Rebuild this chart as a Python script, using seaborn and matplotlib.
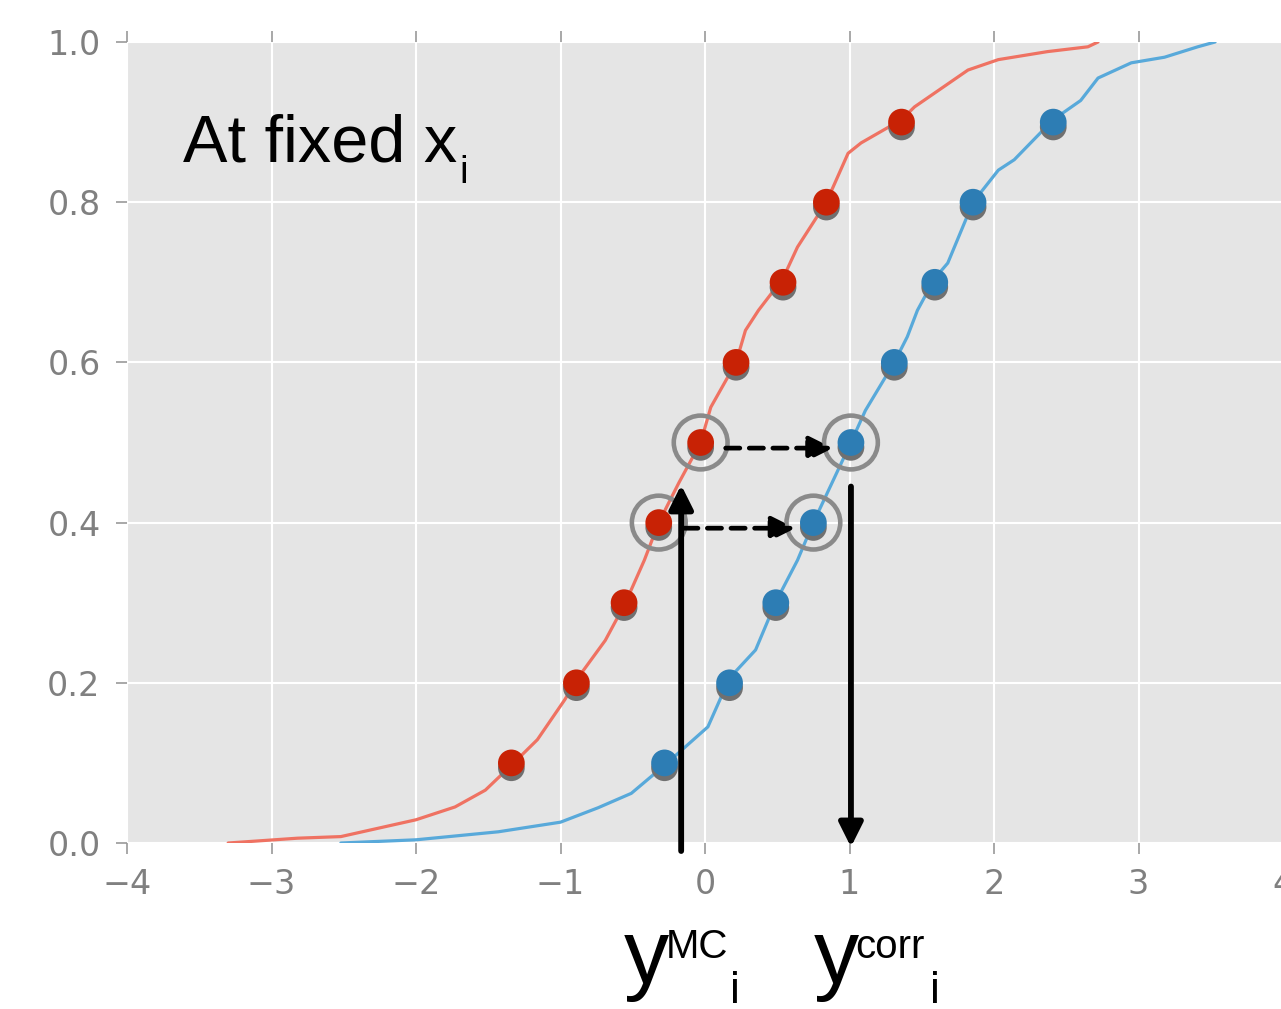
"""Quantile mapping sketch: MC vs corrected CDFs at fixed x_i."""

import matplotlib
matplotlib.use("Agg")
import matplotlib.pyplot as plt
import matplotlib.patheffects as pe
import seaborn as sns

W, H = 1281, 1009

RED_X = [-3.30, -2.82, -2.52, -2.00, -1.73, -1.52, -1.34, -1.16, -0.97, -0.88,
         -0.69, -0.55, -0.42, -0.32, -0.18, -0.03, 0.04, 0.215, 0.28, 0.37,
         0.54, 0.64, 0.84, 0.99, 1.08, 1.36, 1.45, 1.82, 2.03, 2.37, 2.65, 2.72]
RED_Y = [0.0, 0.006, 0.008, 0.029, 0.045, 0.066, 0.097, 0.129, 0.179, 0.206,
         0.253, 0.300, 0.353, 0.400, 0.450, 0.500, 0.544, 0.600, 0.640, 0.665,
         0.705, 0.744, 0.800, 0.861, 0.874, 0.903, 0.919, 0.965, 0.978, 0.988, 0.994, 1.0]
BLUE_X = [-2.52, -2.00, -1.43, -1.00, -0.74, -0.51, -0.28, 0.02, 0.17, 0.35,
          0.49, 0.64, 0.75, 0.88, 1.01, 1.11, 1.31, 1.40, 1.47, 1.59,
          1.68, 1.855, 2.03, 2.14, 2.41, 2.60, 2.72, 2.95, 3.18, 3.41, 3.53]
BLUE_Y = [0.0, 0.004, 0.014, 0.026, 0.044, 0.062, 0.097, 0.145, 0.206, 0.241,
          0.301, 0.353, 0.400, 0.450, 0.500, 0.540, 0.600, 0.632, 0.665, 0.705,
          0.724, 0.800, 0.840, 0.853, 0.903, 0.927, 0.955, 0.974, 0.981, 0.994, 1.0]

# quantile points
Q_LEVELS = [0.1, 0.2, 0.3, 0.4, 0.5, 0.6, 0.7, 0.8, 0.9]
RED_Q = [-1.34, -0.89, -0.56, -0.32, -0.03, 0.215, 0.54, 0.84, 1.36]
BLUE_Q = [-0.28, 0.17, 0.49, 0.75, 1.01, 1.31, 1.59, 1.855, 2.41]
HIGHLIGHT = [3, 4]

# vertical arrows (x, y_start, y_end)
UP_ARROW = (-0.165, -0.010, 0.447)
DOWN_ARROW = (1.01, 0.445, -0.005)

X_TICKS = [-4, -3, -2, -1, 0, 1, 2, 3, 4]
Y_TICKS = [0.0, 0.2, 0.4, 0.6, 0.8, 1.0]

C_RED_LINE, C_BLUE_LINE = "#EF7262", "#58A9DA"
C_RED_DOT, C_BLUE_DOT = "#C82205", "#2D7DB4"
SANS = ["Liberation Sans", "DejaVu Sans"]

sns.set_theme(style="darkgrid", rc={
    "axes.facecolor": "#E5E5E5", "grid.color": "white", "grid.linewidth": 1.5,
})
plt.rcParams["font.family"] = ["DejaVu Sans"]

fig = plt.figure(figsize=(W / 100, H / 100), dpi=100)
ax = fig.add_axes([127 / W, 166 / H, 1156 / W, 801 / H])

sns.lineplot(x=RED_X, y=RED_Y, sort=False, estimator=None, color=C_RED_LINE, lw=2.3, ax=ax)
sns.lineplot(x=BLUE_X, y=BLUE_Y, sort=False, estimator=None, color=C_BLUE_LINE, lw=2.3, ax=ax)

shadow = [pe.SimplePatchShadow(offset=(0, -3.5), shadow_rgbFace="#707070", alpha=1.0), pe.Normal()]
for xs, col in [(RED_Q, C_RED_DOT), (BLUE_Q, C_BLUE_DOT)]:
    sns.scatterplot(x=xs, y=Q_LEVELS, s=370, color=col, edgecolor="none",
                    path_effects=shadow, zorder=4, ax=ax)

# highlight rings
ring_x = [RED_Q[i] for i in HIGHLIGHT] + [BLUE_Q[i] for i in HIGHLIGHT]
ring_y = [Q_LEVELS[i] for i in HIGHLIGHT] * 2
ax.scatter(ring_x, ring_y, s=1500, facecolors="none", edgecolors="#8A8A8A",
           linewidths=3.3, zorder=5)

# dashed horizontal arrows red -> blue
for i in HIGHLIGHT:
    y = Q_LEVELS[i] - 0.007
    ax.annotate("", xy=(BLUE_Q[i], y), xytext=(RED_Q[i], y),
                arrowprops=dict(arrowstyle="-|>", color="black", lw=3.4,
                                linestyle=(0, (3, 2)), mutation_scale=36,
                                shrinkA=18, shrinkB=13), zorder=6)

# vertical arrows
for xa, y0, y1 in [UP_ARROW, DOWN_ARROW]:
    ax.annotate("", xy=(xa, y1), xytext=(xa, y0), annotation_clip=False,
                arrowprops=dict(arrowstyle="-|>", color="black", lw=4.2,
                                mutation_scale=36, shrinkA=0, shrinkB=0), zorder=6)

ax.set_xlim(-4, 4)
ax.set_ylim(0, 1)
ax.set_xticks(X_TICKS)
ax.set_yticks(Y_TICKS)
ax.set_yticklabels([f"{v:.1f}" for v in Y_TICKS])
for s in ax.spines.values():
    s.set_visible(False)
ax.tick_params(axis="both", which="major", top=True, left=True, bottom=True,
               direction="out", length=8, width=1.2, color="#999999",
               labelcolor="#808080", labelsize=24)
ax.tick_params(axis="x", pad=10)
ax.tick_params(axis="y", pad=11)


def ftext(x, y, s, size):
    fig.text(x / W, 1 - y / H, s, fontsize=size, family=SANS, color="black",
             ha="left", va="baseline")


ftext(183, 162, "At fixed x", 48)
ftext(459, 183, "i", 28)

ftext(624, 983, "y", 65)
ftext(666, 958, "MC", 29)
ftext(730, 1003, "i", 32)

ftext(814, 983, "y", 65)
ftext(855, 958, "corr", 29)
ftext(930, 1003, "i", 32)

fig.savefig("out.png", dpi=100)
